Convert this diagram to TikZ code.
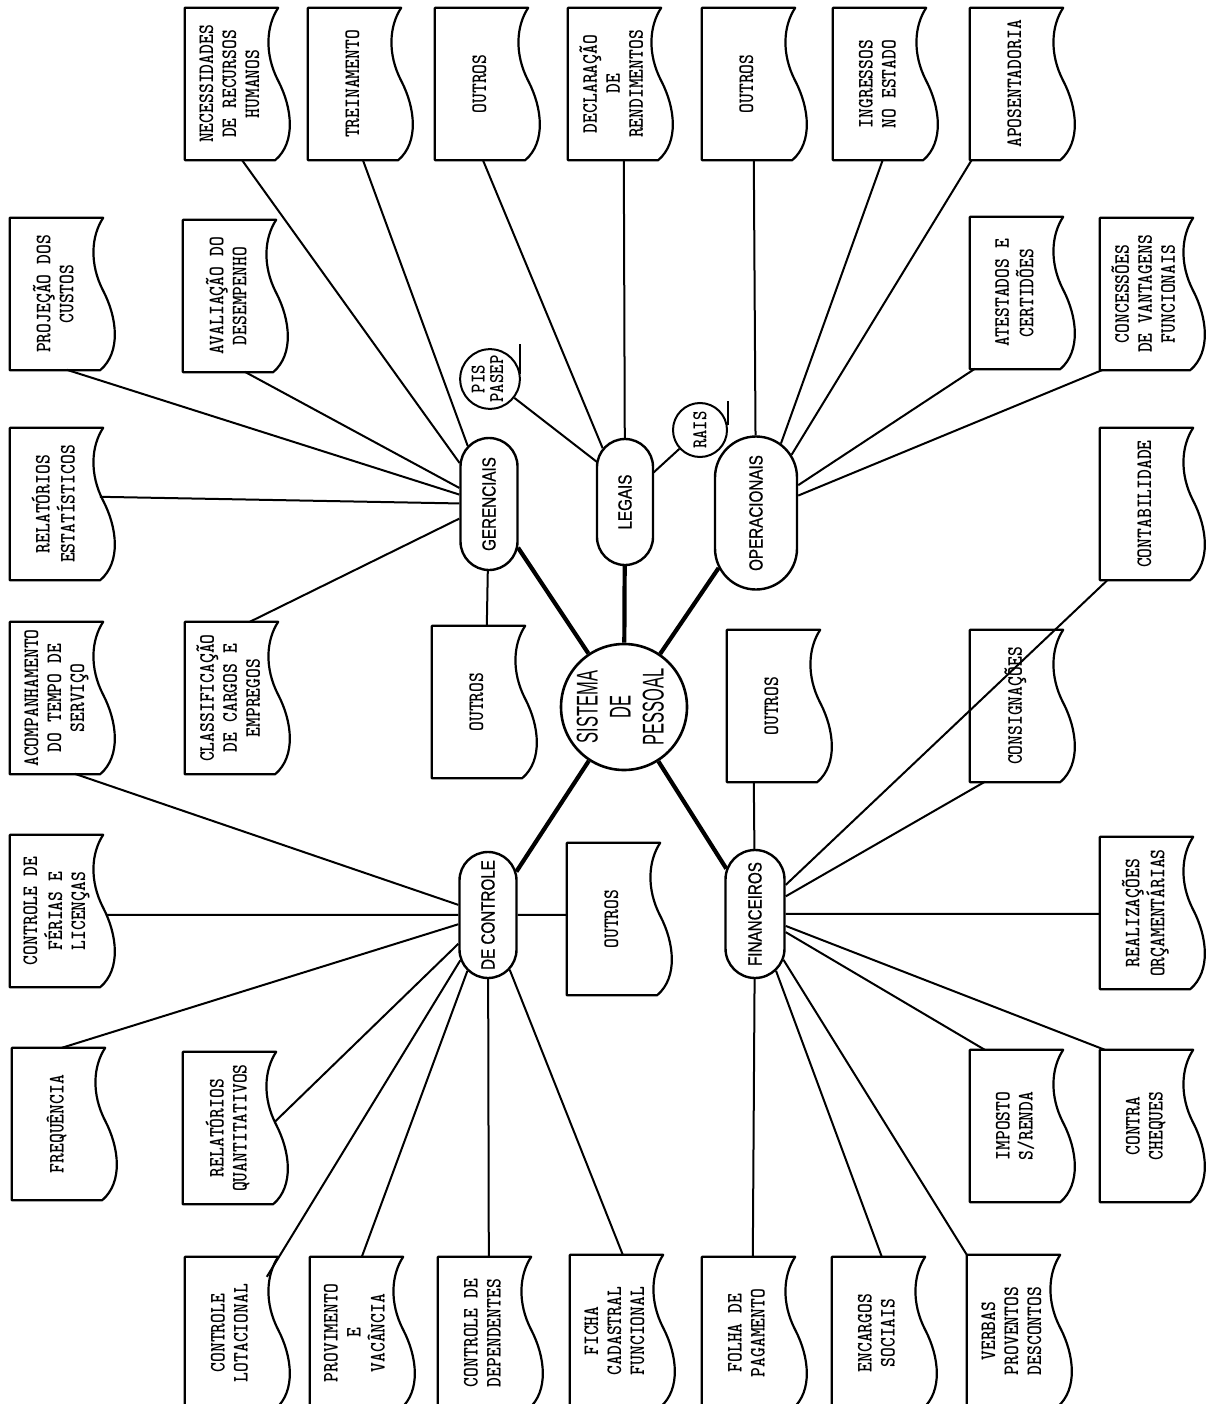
\documentclass[tikz,border=0pt]{standalone}
\usepackage{graphicx}
\usepackage{fontspec}
\setmainfont{Liberation Serif}
\newfontfamily\typfont{lmmonolt10-bold.otf}[FakeStretch=0.85]
\newfontfamily\pillfont[FakeStretch=0.8,FakeBold=0.8]{Liberation Sans}
\newfontfamily\cenfont[FakeStretch=0.55]{Liberation Sans}
\usetikzlibrary{shapes.misc,calc}
\newcommand\docbox[4]{%
  \node[doctext] (#1) at ({#2+46.5},{#3+76}) {\rotatebox{90}{\begin{tabular}{@{}c@{}}#4\end{tabular}}};
  \draw[docline] (#1.north west) -- (#1.north east)
    .. controls +(-12,18) and +(-14,-27) .. ($(#1.north east)+(0,73)$)
    .. controls +(14,27) and +(21,-18) .. ($(#1.south east)+(-3,0)$)
    -- (#1.south west) -- cycle;
}
\begin{document}
\begin{tikzpicture}[x=1pt,y=-1pt,
  doctext/.style={rectangle,minimum width=93pt,minimum height=152pt,inner sep=0pt,
    font=\typfont\fontsize{22}{23}\selectfont},
  docline/.style={line width=2.2pt,line join=round},
  pill/.style={draw,line width=2.4pt,rounded rectangle,rotate=90,inner sep=0pt,
    font=\pillfont\fontsize{19}{20}\selectfont},
  conn/.style={line width=2pt},
  spoke/.style={line width=4.2pt},
  smallcirc/.style={draw,circle,line width=2pt,minimum size=54pt,inner sep=0pt,
    font=\typfont\fontsize{21}{18}\selectfont}
]
\useasboundingbox (0,0) rectangle (1215,1404);
\clip (0,0) rectangle (1215,1404);

% document boxes
\docbox{nec}{185}{8}{NECESSIDADES\\DE RECURSOS\\HUMANOS}
\docbox{tre}{308}{8}{TREINAMENTO}
\docbox{outL}{435}{8}{OUTROS}
\docbox{dec}{568}{8}{DECLARAÇÃO\\DE\\RENDIMENTOS}
\docbox{outO}{702}{8}{OUTROS}
\docbox{ing}{833}{8}{INGRESSOS\\NO ESTADO}
\docbox{apo}{970}{8}{APOSENTADORIA}
\docbox{pro}{10}{218}{PROJEÇÃO DOS\\CUSTOS}
\docbox{ava}{183}{220}{AVALIAÇÃO DO\\DESEMPENHO}
\docbox{ate}{970}{217}{ATESTADOS E\\CERTIDÕES}
\docbox{con}{1100}{218}{CONCESSÕES\\DE VANTAGENS\\FUNCIONAIS}
\docbox{rel}{10}{428}{RELATÓRIOS\\ESTATÍSTICOS}
\docbox{ctb}{1100}{428}{CONTABILIDADE}
\docbox{aco}{10}{622}{ACOMPANHAMENTO\\DO TEMPO DE\\SERVIÇO}
\docbox{cla}{185}{622}{CLASSIFICAÇÃO\\DE CARGOS E\\EMPREGOS}
\docbox{outG}{432}{626}{OUTROS}
\docbox{outF}{727}{630}{OUTROS}
\docbox{cns}{970}{630}{CONSIGNAÇÕES}
\docbox{fer}{10}{835}{CONTROLE DE\\FÉRIAS E\\LICENÇAS}
\docbox{outC}{567}{843}{OUTROS}
\docbox{rea}{1100}{837}{REALIZAÇÕES\\ORÇAMENTÁRIAS}
\docbox{fre}{12}{1048}{FREQUÊNCIA}
\docbox{rqu}{183}{1052}{RELATÓRIOS\\QUANTITATIVOS}
\docbox{imp}{970}{1050}{IMPOSTO\\S/RENDA}
\docbox{cch}{1100}{1050}{CONTRA\\CHEQUES}
\docbox{lot}{185}{1257}{CONTROLE\\LOTACIONAL}
\docbox{prv}{310}{1257}{PROVIMENTO\\E\\VACÂNCIA}
\docbox{dep}{438}{1257}{CONTROLE DE\\DEPENDENTES}
\docbox{fic}{570}{1255}{FICHA\\CADASTRAL\\FUNCIONAL}
\docbox{fol}{702}{1257}{FOLHA DE\\PAGAMENTO}
\docbox{enc}{832}{1257}{ENCARGOS\\SOCIAIS}
\docbox{ver}{967}{1255}{VERBAS\\PROVENTOS\\DESCONTOS}

% central circle
\node[draw,circle,line width=2.6pt,minimum size=126pt,inner sep=0pt,
  font=\cenfont\fontsize{30}{33}\selectfont] (cen) at (624,707)
  {\rotatebox{90}{\begin{tabular}{@{}c@{}}SISTEMA\\DE\\PESSOAL\end{tabular}}};

% pills
\node[pill,minimum width=132pt,minimum height=57pt] (ger) at (489,504) {GERENCIAIS};
\node[pill,minimum width=126pt,minimum height=56pt] (leg) at (625,502) {LEGAIS};
\node[pill,minimum width=153pt,minimum height=82pt] (ope) at (756,513) {OPERACIONAIS};
\node[pill,minimum width=126pt,minimum height=57pt] (ctl) at (488,915) {DE CONTROLE};
\node[pill,minimum width=128pt,minimum height=59pt] (fin) at (755,914) {FINANCEIROS};

% small circles
\node[smallcirc] (pis) at (490,379) {\rotatebox{90}{\begin{tabular}{@{}c@{}}PIS\\PASEP\end{tabular}}};
\node[smallcirc] (rais) at (700,430) {\rotatebox{90}{RAIS}};
\draw[conn] (pis.10) -- ++(0,-30);
\draw[conn] (rais.10) -- ++(0,-24);

% spokes
\foreach \p in {ger,leg,ope,ctl,fin} \draw[spoke] (cen) -- (\p);

% gerenciais
\draw[conn] ($(nec.north west)+(57,152)$) -- (ger);
\draw[conn] ($(tre.north west)+(55,152)$) -- (ger);
\draw[conn] ($(pro.north west)+(57,152)$) -- (ger);
\draw[conn] ($(ava.north west)+(62,152)$) -- (ger);
\draw[conn] ($(rel.north west)+(90,69)$) -- (ger);
\draw[conn] ($(cla.north west)+(65,0)$) -- (ger);
\draw[conn] ($(outG.north west)+(55,0)$) -- (ger);

% legais
\draw[conn] ($(outL.north west)+(48,152)$) -- (leg);
\draw[conn] ($(dec.north west)+(56,152)$) -- (leg);
\draw[conn] (pis) -- ($(leg.center)+(-28,-40)$);
\draw[conn] (rais) -- ($(leg.center)+(28,-29)$);

% operacionais
\draw[conn] ($(outO.north west)+(52,152)$) -- (ope);
\draw[conn] ($(ing.north west)+(50,152)$) -- (ope);
\draw[conn] ($(apo.north west)+(2,152)$) -- (ope);
\draw[conn] ($(ate.north west)+(5,152)$) -- (ope);
\draw[conn] ($(con.north west)+(3,152)$) -- (ope);

% de controle
\draw[conn] ($(aco.north west)+(65,152)$) -- (ctl);
\draw[conn] ($(fer.north west)+(97,80)$) -- (ctl);
\draw[conn] ($(fre.north west)+(50,0)$) -- (ctl);
\draw[conn] ($(rqu.north west)+(92,70)$) -- (ctl);
\draw[conn] ($(lot.north west)+(82,20)$) -- (ctl);
\draw[conn] ($(prv.north west)+(52,0)$) -- (ctl);
\draw[conn] ($(dep.north west)+(51,0)$) -- (ctl);
\draw[conn] ($(fic.north west)+(53,0)$) -- (ctl);
\draw[conn] (ctl) -- ($(outC.north west)+(0,72)$);

% financeiros
\draw[conn] ($(outF.north west)+(27,152)$) -- (fin);
\draw[conn] ($(ctb.north west)+(8,152)$) -- (fin);
\draw[conn] ($(cns.north west)+(15,152)$) -- (fin);
\draw[conn] (fin) -- ($(rea.north west)+(0,77)$);
\draw[conn] ($(imp.north west)+(15,0)$) -- (fin);
\draw[conn] ($(cch.north west)+(5,0)$) -- (fin);
\draw[conn] ($(fol.north west)+(51,0)$) -- (fin);
\draw[conn] ($(enc.north west)+(50,0)$) -- (fin);
\draw[conn] (ver.north west) -- (fin);
\end{tikzpicture}
\end{document}
